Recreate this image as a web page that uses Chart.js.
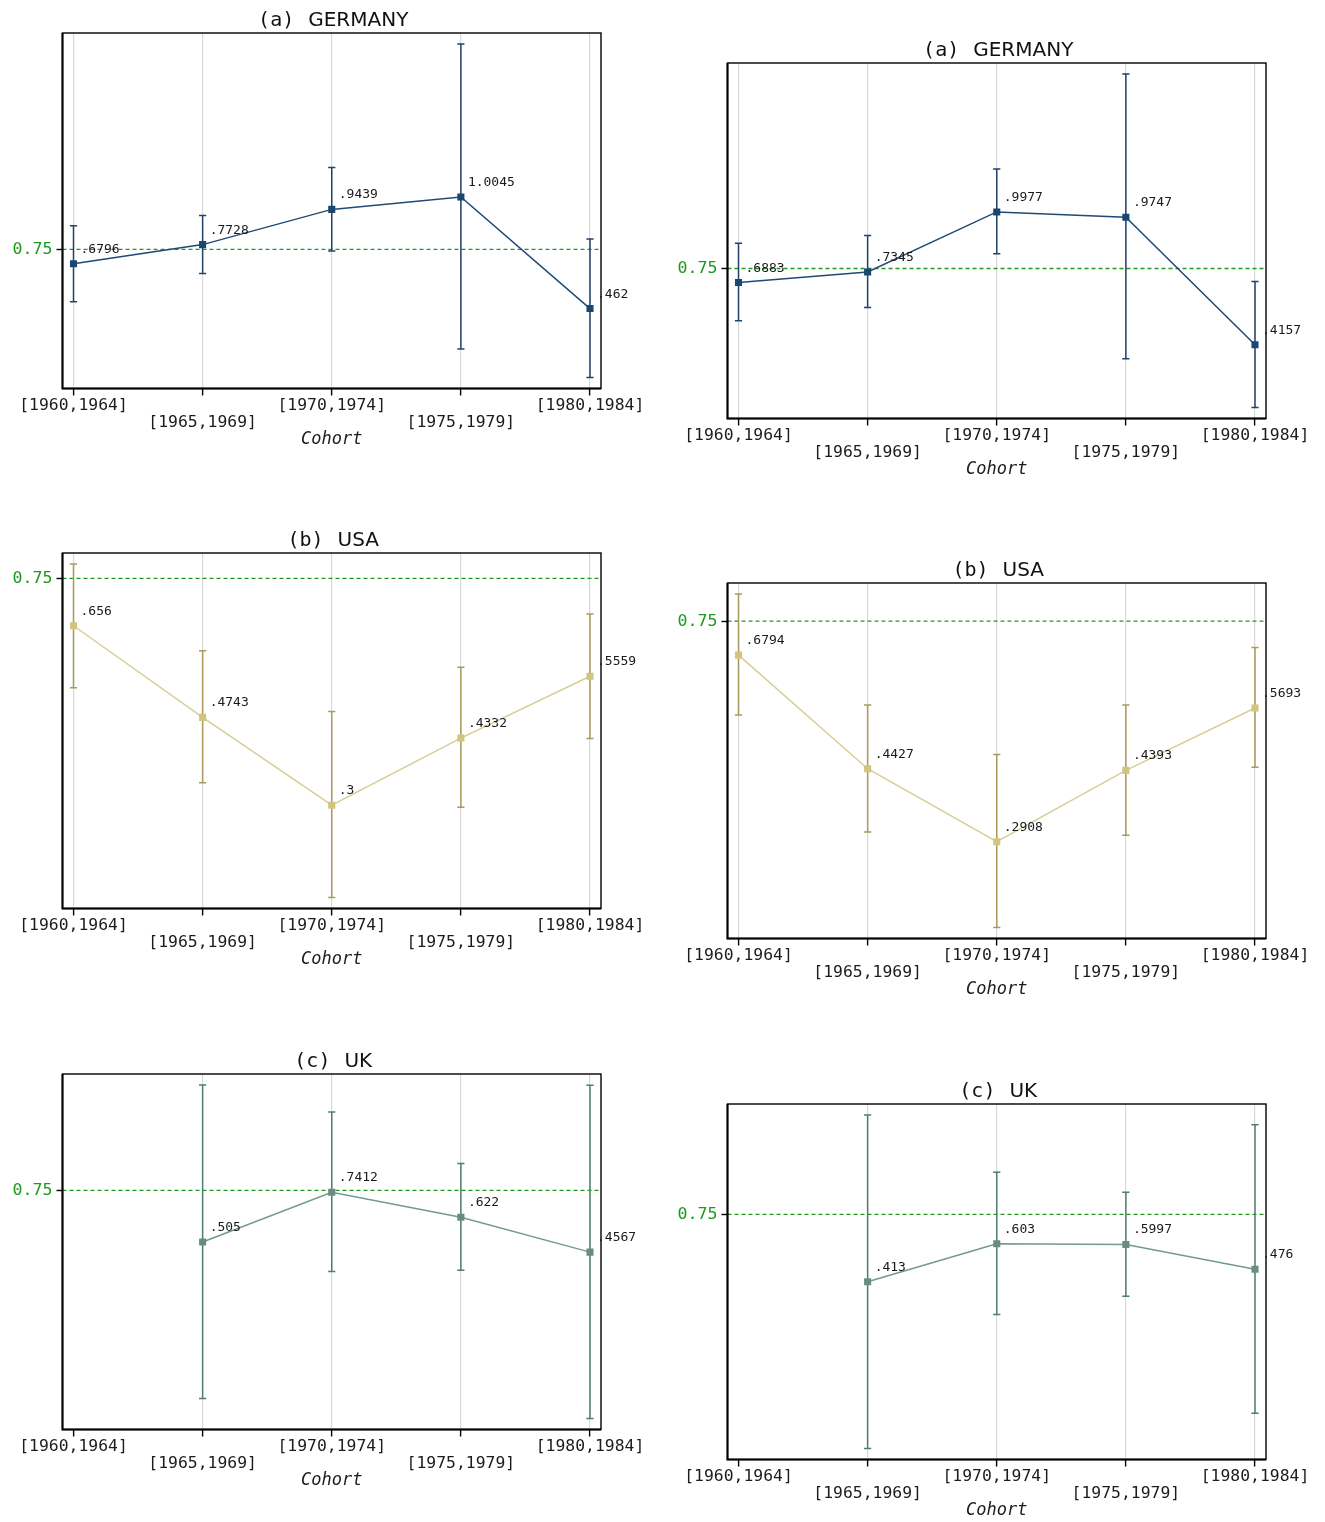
<!DOCTYPE html>
<html>
<head>
<meta charset="utf-8">
<script src="https://cdn.jsdelivr.net/npm/chart.js@4.4.1/dist/chart.umd.min.js"></script>
<style>
  html, body { margin: 0; padding: 0; background: #fff; overflow: hidden; width: 1325px; height: 1522px; }
  canvas { position: absolute; }
</style>
</head>
<body>
<script>
// ---- data ----
const cohorts = ['[1960,1964]', '[1965,1969]', '[1970,1974]', '[1975,1979]', '[1980,1984]'];
const targetValue = 0.75;
const xTitle = 'Cohort';

// Germany, left panel
const deLeft   = [0.6796, 0.7728, 0.9439, 1.0045, 0.462];
const deLeftLo = [0.4946, 0.6320, 0.7420, 0.2660, 0.1270];
const deLeftHi = [0.8650, 0.9137, 1.1470, 1.7476, 0.8000];
// Germany, right panel
const deRight   = [0.6883, 0.7345, 0.9977, 0.9747, 0.4157];
const deRightLo = [0.5207, 0.5789, 0.8150, 0.3544, 0.1413];
const deRightHi = [0.8607, 0.8940, 1.1859, 1.6017, 0.6927];
// USA, left panel
const usLeft   = [0.656, 0.4743, 0.3, 0.4332, 0.5559];
const usLeftLo = [0.5329, 0.3447, 0.1169, 0.2958, 0.4325];
const usLeftHi = [0.7785, 0.6062, 0.4859, 0.5737, 0.6795];
// USA, right panel
const usRight   = [0.6794, 0.4427, 0.2908, 0.4393, 0.5693];
const usRightLo = [0.5547, 0.3107, 0.1120, 0.3044, 0.4458];
const usRightHi = [0.8067, 0.5754, 0.4722, 0.5754, 0.6951];
// UK, left panel (no estimate for the first cohort)
const ukLeft   = [null, 0.505, 0.7412, 0.622, 0.4567];
const ukLeftLo = [null, -0.2386, 0.3650, 0.3711, -0.3334];
const ukLeftHi = [null, 1.2502, 1.1222, 0.8770, 1.2487];
// UK, right panel
const ukRight   = [null, 0.413, 0.603, 0.5997, 0.476];
const ukRightLo = [null, -0.4220, 0.2495, 0.3410, -0.2455];
const ukRightHi = [null, 1.2480, 0.9610, 0.8610, 1.1995];

// ---- styling ----
const styles = {
  GERMANY: { line: '#1f4a73', marker: '#1a476f', ci: '#22426a' },
  USA:     { line: '#d8ce93', marker: '#d1c47f', ci: '#ab9a5d' },
  UK:      { line: '#729a8d', marker: '#6a8c80', ci: '#4f7d71' }
};

const panels = [
  { tag: '(a)', name: 'GERMANY', v: deLeft,  lo: deLeftLo,  hi: deLeftHi,  left: 0,   top: 0 },
  { tag: '(a)', name: 'GERMANY', v: deRight, lo: deRightLo, hi: deRightHi, left: 665, top: 30 },
  { tag: '(b)', name: 'USA',     v: usLeft,  lo: usLeftLo,  hi: usLeftHi,  left: 0,   top: 520 },
  { tag: '(b)', name: 'USA',     v: usRight, lo: usRightLo, hi: usRightHi, left: 665, top: 550 },
  { tag: '(c)', name: 'UK',      v: ukLeft,  lo: ukLeftLo,  hi: ukLeftHi,  left: 0,   top: 1041 },
  { tag: '(c)', name: 'UK',      v: ukRight, lo: ukRightLo, hi: ukRightHi, left: 665, top: 1071 }
];

// ---- geometry of each panel canvas ----
const CW = 660, CH = 460;
const PAD_TOP = 33, PAD_RIGHT = 59, PAD_BOTTOM = 11.5;
const Y_AXIS_W = 62.5, X_AXIS_H = 60;
const AREA_H = CH - PAD_TOP - PAD_BOTTOM - X_AXIS_H;
const AREA_W = CW - Y_AXIS_W - PAD_RIGHT;
const EDGE_PX = 11; // plot-region margin around the outermost marks

const MONO = '"DejaVu Sans Mono", monospace';
const SANS = '"DejaVu Sans", sans-serif';

function fmtLabel(v) {
  return String(v).replace(/^0\./, '.').replace(/^-0\./, '-.');
}

function decor(p, st) {
  return {
    id: 'panelDecor',
    beforeDatasetsDraw(chart) {
      const { ctx, chartArea: a, scales: { x, y } } = chart;
      ctx.save();
      // reference line
      const yr = y.getPixelForValue(targetValue);
      ctx.strokeStyle = '#1e9a1e';
      ctx.lineWidth = 1.3;
      ctx.setLineDash([4, 3]);
      ctx.beginPath();
      ctx.moveTo(a.left, yr);
      ctx.lineTo(a.right, yr);
      ctx.stroke();
      ctx.setLineDash([]);
      // confidence intervals with caps
      ctx.strokeStyle = st.ci;
      ctx.lineWidth = 1.5;
      p.lo.forEach((lo, i) => {
        if (lo === null) return;
        const px = x.getPixelForValue(i);
        const p1 = y.getPixelForValue(lo);
        const p2 = y.getPixelForValue(p.hi[i]);
        ctx.beginPath();
        ctx.moveTo(px, p1); ctx.lineTo(px, p2);
        ctx.moveTo(px - 3.6, p1); ctx.lineTo(px + 3.6, p1);
        ctx.moveTo(px - 3.6, p2); ctx.lineTo(px + 3.6, p2);
        ctx.stroke();
      });
      ctx.restore();
    },
    afterDatasetsDraw(chart) {
      const { ctx, chartArea: a, scales: { x, y } } = chart;
      ctx.save();
      // plot-region frame
      ctx.strokeStyle = '#000';
      ctx.lineWidth = 1.4;
      ctx.strokeRect(a.left, a.top, a.right - a.left, a.bottom - a.top);
      ctx.lineWidth = 2;
      ctx.beginPath();
      ctx.moveTo(a.left, a.top); ctx.lineTo(a.left, a.bottom); ctx.lineTo(a.right, a.bottom);
      ctx.stroke();
      // value labels
      ctx.fillStyle = '#1a1a1a';
      ctx.font = '13px ' + MONO;
      ctx.textAlign = 'left';
      ctx.textBaseline = 'alphabetic';
      p.v.forEach((v, i) => {
        if (v === null) return;
        const px = x.getPixelForValue(i);
        const py = y.getPixelForValue(v);
        ctx.fillText(fmtLabel(v), px + 7, py - 11);
      });
      // panel title
      const cx = (a.left + a.right) / 2 + 1.5;
      const by = a.top - 7;
      ctx.fillStyle = '#111';
      ctx.font = '20px ' + MONO;
      const w1 = ctx.measureText(p.tag).width;
      ctx.font = '20px ' + SANS;
      const w2 = ctx.measureText(p.name).width;
      const gap = 14;
      const x0 = cx - (w1 + gap + w2) / 2;
      ctx.font = '20px ' + MONO;
      ctx.fillText(p.tag, x0, by);
      ctx.font = '20px ' + SANS;
      ctx.fillText(p.name, x0 + w1 + gap, by);
      ctx.restore();
    }
  };
}

panels.forEach((p) => {
  const st = styles[p.name];
  const canvas = document.createElement('canvas');
  canvas.width = CW;
  canvas.height = CH;
  canvas.style.left = p.left + 'px';
  canvas.style.top = p.top + 'px';
  document.body.appendChild(canvas);

  const lows = p.lo.filter(v => v !== null);
  const highs = p.hi.filter(v => v !== null);
  const yLo = Math.min(...lows), yHi = Math.max(...highs);
  const yPad = (yHi - yLo) * EDGE_PX / (AREA_H - 2 * EDGE_PX);
  const xPad = EDGE_PX / ((AREA_W - 2 * EDGE_PX) / (cohorts.length - 1));

  const pts = [];
  p.v.forEach((v, i) => { if (v !== null) pts.push({ x: i, y: v }); });
  const missingFirst = p.v[0] === null;

  new Chart(canvas, {
    type: 'line',
    data: {
      datasets: [{
        data: pts,
        borderColor: st.line,
        borderWidth: 1.5,
        pointStyle: 'rect',
        pointRadius: 5,
        pointHoverRadius: 5,
        pointBackgroundColor: st.marker,
        pointBorderColor: st.marker,
        pointBorderWidth: 0,
        tension: 0,
        fill: false
      }]
    },
    options: {
      responsive: false,
      animation: false,
      devicePixelRatio: 1,
      events: [],
      layout: { padding: { top: PAD_TOP, right: PAD_RIGHT, bottom: PAD_BOTTOM, left: 0 } },
      plugins: { legend: { display: false }, title: { display: false }, tooltip: { enabled: false } },
      scales: {
        x: {
          type: 'linear',
          min: -xPad,
          max: cohorts.length - 1 + xPad,
          afterBuildTicks: (axis) => { axis.ticks = cohorts.map((_, i) => ({ value: i })); },
          afterFit: (axis) => { axis.height = X_AXIS_H; },
          border: { display: false },
          grid: {
            drawOnChartArea: true,
            color: (ctx) => (missingFirst && ctx.index === 0) ? 'rgba(0,0,0,0)' : '#d9d9d9',
            lineWidth: 1.2,
            tickColor: '#000',
            tickWidth: 1.4,
            tickLength: 7
          },
          ticks: {
            autoSkip: false,
            maxRotation: 0,
            minRotation: 0,
            padding: 2,
            color: '#1c1c1c',
            font: { family: MONO, size: 16.4, lineHeight: 1.02 },
            callback: (value, index) => index % 2 ? ['', cohorts[value]] : cohorts[value]
          },
          title: {
            display: true,
            text: xTitle,
            color: '#1c1c1c',
            font: { family: MONO, style: 'italic', size: 17, lineHeight: 1 },
            padding: { top: 0, bottom: 0 }
          }
        },
        y: {
          type: 'linear',
          min: yLo - yPad,
          max: yHi + yPad,
          afterBuildTicks: (axis) => { axis.ticks = [{ value: targetValue }]; },
          afterFit: (axis) => { axis.width = Y_AXIS_W; },
          border: { display: false },
          grid: {
            drawOnChartArea: false,
            tickColor: '#000',
            tickWidth: 1.4,
            tickLength: 6
          },
          ticks: {
            padding: 4,
            color: '#1e9a1e',
            font: { family: MONO, size: 16.6 },
            callback: (value) => String(value)
          }
        }
      }
    },
    plugins: [decor(p, st)]
  });
});
</script>
</body>
</html>
